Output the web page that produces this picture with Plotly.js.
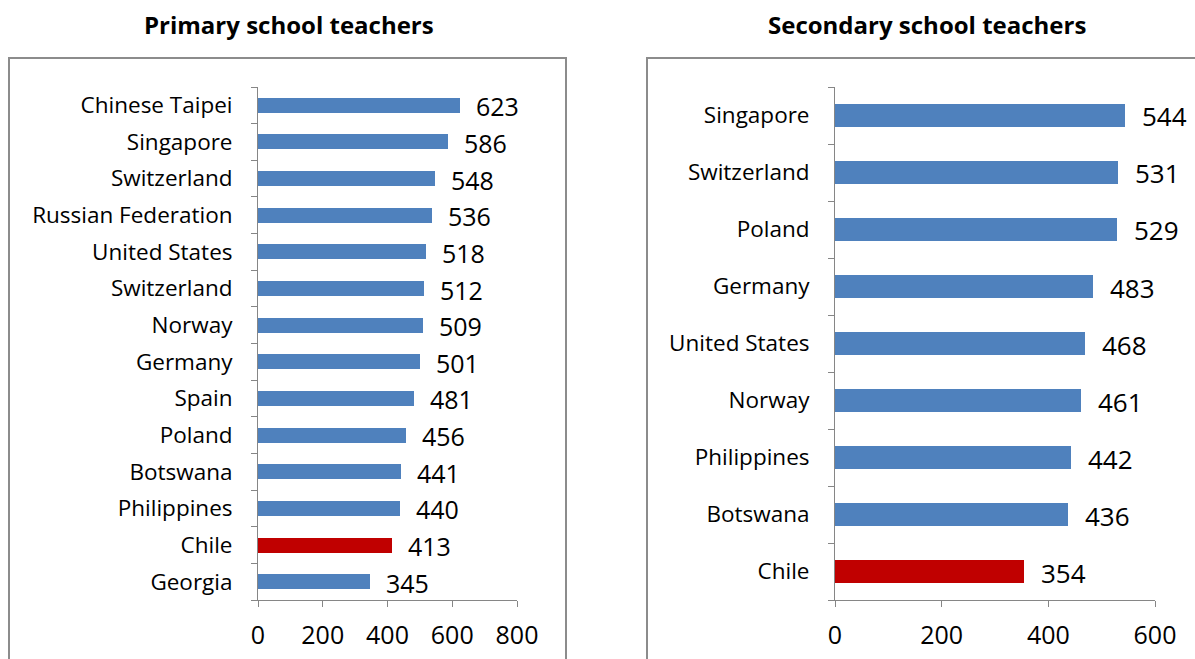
<!DOCTYPE html>
<html>
<head>
<meta charset="utf-8">
<script src="https://cdn.plot.ly/plotly-3.0.1.min.js"></script>
<style>html,body{margin:0;padding:0;background:#fff}#chart{width:1195px;height:659px}</style>
</head>
<body>
<div id="chart"></div>
<script>
var primaryCountries = ["Chinese Taipei","Singapore","Switzerland","Russian Federation","United States","Switzerland","Norway","Germany","Spain","Poland","Botswana","Philippines","Chile","Georgia"];
var primaryValues = [623,586,548,536,518,512,509,501,481,456,441,440,413,345];
var secondaryCountries = ["Singapore","Switzerland","Poland","Germany","United States","Norway","Philippines","Botswana","Chile"];
var secondaryValues = [544,531,529,483,468,461,442,436,354];
var primaryTicks = [0,200,400,600,800];
var secondaryTicks = [0,200,400,600];
var titles = ["Primary school teachers","Secondary school teachers"];

var W = 1195, H = 659;
var BLUE = "#4F81BD", RED = "#C00000", GRAY = "#868686";
var FONT = "'Open Sans', sans-serif";
function px(x){return x/W;}
function py(y){return 1 - y/H;}
function colors(names){return names.map(function(n){return n === "Chile" ? RED : BLUE;});}
function idx(arr){return arr.map(function(_, i){return i;});}

var traces = [
  {type:"bar", orientation:"h", x:primaryValues, y:idx(primaryCountries), width:0.41,
   marker:{color:colors(primaryCountries), line:{width:0}}, xaxis:"x", yaxis:"y", hoverinfo:"x"},
  {type:"bar", orientation:"h", x:secondaryValues, y:idx(secondaryCountries), width:0.41,
   marker:{color:colors(secondaryCountries), line:{width:0}}, xaxis:"x2", yaxis:"y2", hoverinfo:"x"}
];

var annotations = [];
primaryValues.forEach(function(v, i){
  annotations.push({x:v, y:i, xref:"x", yref:"y", text:String(v), showarrow:false,
    xanchor:"left", yanchor:"middle", xshift:14, yshift:-1, font:{family:FONT, size:25, color:"#000"}});
});
secondaryValues.forEach(function(v, i){
  annotations.push({x:v, y:i, xref:"x2", yref:"y2", text:String(v), showarrow:false,
    xanchor:"left", yanchor:"middle", xshift:15, yshift:-1, font:{family:FONT, size:26, color:"#000"}});
});
annotations.push({x:px(289), y:py(25), xref:"paper", yref:"paper", text:"<b>"+titles[0]+"</b>", showarrow:false,
  xanchor:"center", yanchor:"middle", font:{family:FONT, size:24, color:"#000"}});
annotations.push({x:px(927), y:py(25), xref:"paper", yref:"paper", text:"<b>"+titles[1]+"</b>", showarrow:false,
  xanchor:"center", yanchor:"middle", font:{family:FONT, size:24, color:"#000"}});

function yAxis(names, domain){
  return {domain:domain, range:[names.length - 0.5, -0.5], tickmode:"array", tickvals:idx(names), ticktext:names,
    ticks:"", showline:true, linecolor:GRAY, linewidth:1, showgrid:false, zeroline:false,
    ticklabelstandoff:20, tickfont:{family:FONT, size:22.5, color:"#000"},
    minor:{ticks:"outside", ticklen:6, tickcolor:GRAY, tickwidth:1, tick0:-0.5, dtick:1, showgrid:false}};
}
function xAxis(ticks, domain, anchor){
  return {domain:domain, range:[ticks[0], ticks[ticks.length-1]], tickmode:"array", tickvals:ticks,
    ticks:"outside", ticklen:6, tickcolor:GRAY, tickwidth:1, showline:true, linecolor:GRAY, linewidth:1,
    showgrid:false, zeroline:false, anchor:anchor, ticklabelstandoff:7,
    tickfont:{family:FONT, size:25, color:"#000"}};
}

var layout = {
  width:W, height:H, margin:{l:0, r:0, t:0, b:0}, paper_bgcolor:"#fff", plot_bgcolor:"rgba(0,0,0,0)",
  showlegend:false, bargap:0,
  xaxis: xAxis(primaryTicks, [px(258), px(517)], "y"),
  yaxis: yAxis(primaryCountries, [py(600), py(87)]),
  xaxis2: xAxis(secondaryTicks, [px(835), px(1155)], "y2"),
  yaxis2: Object.assign(yAxis(secondaryCountries, [py(600), py(87)]), {anchor:"x2"}),
  annotations: annotations,
  shapes: [
    {type:"rect", xref:"paper", yref:"paper", x0:px(9), x1:px(566), y0:py(58), y1:py(720), line:{color:"#8c8c8c", width:2}},
    {type:"rect", xref:"paper", yref:"paper", x0:px(647), x1:px(1260), y0:py(58), y1:py(720), line:{color:"#8c8c8c", width:2}}
  ]
};
layout.yaxis.anchor = "x";
Plotly.newPlot("chart", traces, layout, {displayModeBar:false, staticPlot:true});
</script>
</body>
</html>
